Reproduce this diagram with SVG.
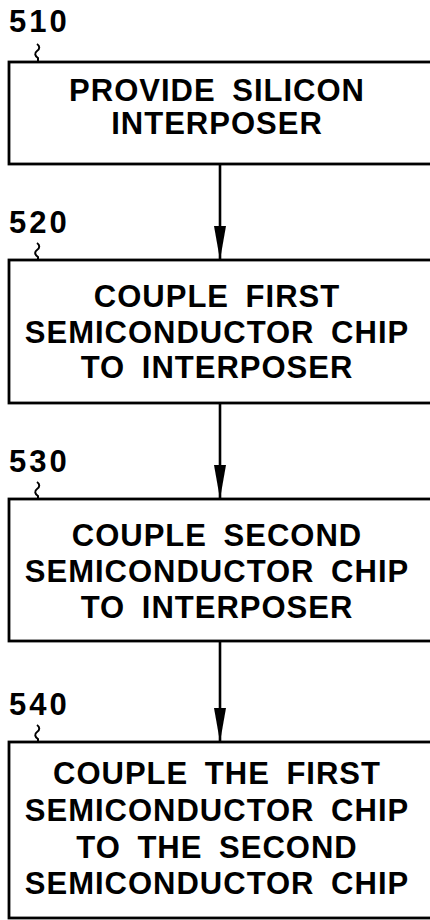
<svg xmlns="http://www.w3.org/2000/svg" width="430" height="920" viewBox="0 0 430 920">
  <style>
    .box { fill: #fff; stroke: #000; stroke-width: 2.8; }
    .step { font-family: "Liberation Sans", Arial, sans-serif; font-size: 31px; font-weight: bold; text-anchor: middle; fill: #000; letter-spacing: 1px; word-spacing: 7px; }
    .ref { font-family: "Liberation Sans", Arial, sans-serif; font-size: 31px; font-weight: bold; fill: #000; letter-spacing: 3px; }
    .lead { fill: none; stroke: #000; stroke-width: 2; }
    .flow { stroke: #000; stroke-width: 2.6; fill: none; }
  </style>
  <defs>
    <!-- arrowhead drawn along +x so orient="auto" points it down the line -->
    <marker id="arrow" markerUnits="userSpaceOnUse" markerWidth="34" markerHeight="14" refX="34" refY="7" orient="auto" viewBox="0 0 34 14">
      <path d="M0,1 L34,7 L0,13 Z" fill="#000"/>
    </marker>
  </defs>
  <rect width="430" height="920" fill="#fff"/>

  <!-- connectors -->
  <g id="connectors">
    <line class="flow" x1="220" y1="164" x2="220" y2="260" marker-end="url(#arrow)"/>
    <line class="flow" x1="220" y1="403" x2="220" y2="499" marker-end="url(#arrow)"/>
    <line class="flow" x1="220" y1="641" x2="220" y2="742" marker-end="url(#arrow)"/>
  </g>

  <!-- step 510 -->
  <g id="step510">
    <text class="ref" x="9" y="32">510</text>
    <path class="lead" d="M37,44 c3,2 3,5 0,7 c-3,2 -2,5 1,7 l0,4"/>
    <rect class="box" x="9" y="62" width="430" height="102"/>
    <text class="step" x="217" y="101">PROVIDE SILICON</text>
    <text class="step" x="217" y="134">INTERPOSER</text>
  </g>

  <!-- step 520 -->
  <g id="step520">
    <text class="ref" x="9" y="233">520</text>
    <path class="lead" d="M37,243 c3,2 3,5 0,7 c-3,2 -2,5 1,7 l0,3"/>
    <rect class="box" x="9" y="260" width="430" height="143"/>
    <text class="step" x="217" y="307">COUPLE FIRST</text>
    <text class="step" x="217" y="343">SEMICONDUCTOR CHIP</text>
    <text class="step" x="217" y="378">TO INTERPOSER</text>
  </g>

  <!-- step 530 -->
  <g id="step530">
    <text class="ref" x="9" y="472">530</text>
    <path class="lead" d="M37,482 c3,2 3,5 0,7 c-3,2 -2,5 1,7 l0,3"/>
    <rect class="box" x="9" y="499" width="430" height="142"/>
    <text class="step" x="217" y="546">COUPLE SECOND</text>
    <text class="step" x="217" y="582">SEMICONDUCTOR CHIP</text>
    <text class="step" x="217" y="618">TO INTERPOSER</text>
  </g>

  <!-- step 540 -->
  <g id="step540">
    <text class="ref" x="9" y="715">540</text>
    <path class="lead" d="M37,725 c3,2 3,5 0,7 c-3,2 -2,5 1,7 l0,3"/>
    <rect class="box" x="9" y="742" width="430" height="176"/>
    <text class="step" x="217" y="784">COUPLE THE FIRST</text>
    <text class="step" x="217" y="821">SEMICONDUCTOR CHIP</text>
    <text class="step" x="217" y="858">TO THE SECOND</text>
    <text class="step" x="217" y="894">SEMICONDUCTOR CHIP</text>
  </g>
</svg>
